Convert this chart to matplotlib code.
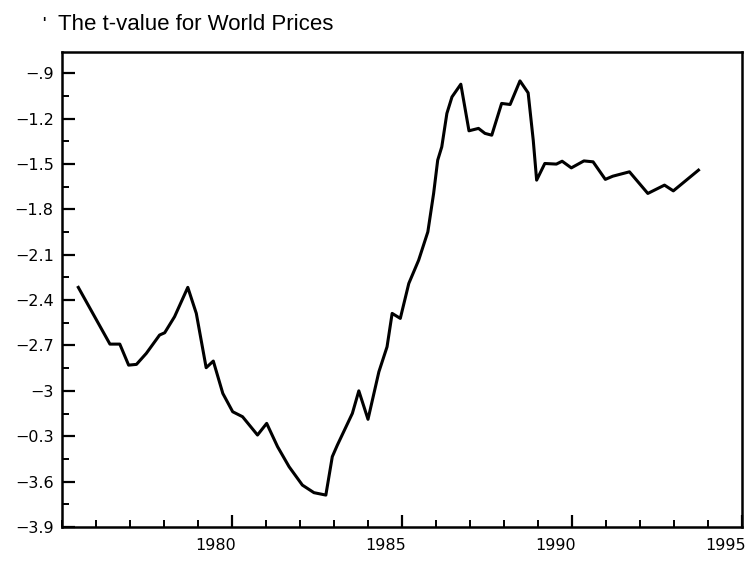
import matplotlib
matplotlib.use("Agg")
import matplotlib.pyplot as plt
from matplotlib.ticker import FixedLocator, MultipleLocator
from matplotlib.transforms import ScaledTranslation

# t-value series (year, value)
years = [1975.48, 1976.41, 1976.70, 1976.96, 1977.19, 1977.48, 1977.87, 1978.02,
         1978.31, 1978.70, 1978.95, 1979.24, 1979.45, 1979.73, 1980.02, 1980.31,
         1980.75, 1981.02, 1981.34, 1981.68, 1982.07, 1982.41, 1982.76, 1982.95,
         1983.10, 1983.54, 1983.73, 1984.00, 1984.32, 1984.56, 1984.71, 1984.95,
         1985.20, 1985.49, 1985.76, 1985.93, 1986.05, 1986.17, 1986.32, 1986.47,
         1986.73, 1986.97, 1987.25, 1987.44, 1987.64, 1987.93, 1988.18, 1988.47,
         1988.71, 1988.86, 1988.96, 1989.20, 1989.54, 1989.71, 1989.98, 1990.35,
         1990.62, 1990.98, 1991.20, 1991.69, 1992.23, 1992.72, 1992.98, 1993.72]
tvalues = [-2.316, -2.691, -2.691, -2.830, -2.825, -2.752, -2.631, -2.616,
           -2.510, -2.316, -2.488, -2.847, -2.803, -3.017, -3.138, -3.171,
           -3.292, -3.215, -3.369, -3.502, -3.623, -3.673, -3.689, -3.435,
           -3.358, -3.149, -3.000, -3.188, -2.874, -2.709, -2.488, -2.521,
           -2.290, -2.136, -1.949, -1.695, -1.475, -1.387, -1.166, -1.057,
           -0.973, -1.281, -1.265, -1.298, -1.310, -1.100, -1.107, -0.951,
           -1.030, -1.343, -1.607, -1.497, -1.501, -1.482, -1.526, -1.480,
           -1.486, -1.602, -1.581, -1.552, -1.695, -1.640, -1.678, -1.541]

ytick_vals = [-0.9, -1.2, -1.5, -1.8, -2.1, -2.4, -2.7, -3.0, -3.3, -3.6, -3.9]
# labels as printed on the original (including its "-0.3")
ytick_labels = ["\u2212.9", "\u22121.2", "\u22121.5", "\u22121.8", "\u22122.1",
                "\u22122.4", "\u22122.7", "\u22123", "\u22120.3", "\u22123.6",
                "\u22123.9"]
xtick_vals = [1980, 1985, 1990, 1995]
xtick_labels = ["1980", "1985", "1990", "1995"]

fig = plt.figure(figsize=(7.51, 5.63), dpi=100)
ax = fig.add_axes([62 / 751, 1 - 527 / 563, 680 / 751, 475 / 563])

ax.plot(years, tvalues, color="black", lw=2.2, solid_joinstyle="round")

ax.set_xlim(1975, 1995)
ax.set_ylim(-3.9, -0.76)

ax.yaxis.set_major_locator(FixedLocator(ytick_vals))
ax.set_yticklabels(ytick_labels)
ax.yaxis.set_minor_locator(MultipleLocator(0.15))
ax.xaxis.set_major_locator(FixedLocator(xtick_vals))
ax.set_xticklabels(xtick_labels)
ax.xaxis.set_minor_locator(MultipleLocator(1))

ax.tick_params(which="both", direction="in", top=False, right=False, color="black")
ax.tick_params(which="major", length=9, width=1.6, pad=6)
ax.tick_params(which="minor", length=5, width=1.4)
ax.tick_params(axis="x", which="major", pad=8)
for sp in ax.spines.values():
    sp.set_linewidth(1.8)

lab_font = dict(family="DejaVu Sans", size=11.5)
for lab in ax.get_yticklabels():
    lab.set(**lab_font)
for lab in ax.get_xticklabels():
    lab.set(**lab_font)
    # year labels sit a little left of their tick on the original
    lab.set_transform(lab.get_transform() + ScaledTranslation(-0.16, 0, fig.dpi_scale_trans))

fig.text(58 / 751, 1 - 30 / 563, "The t-value for World Prices",
         family="Liberation Sans", fontsize=16, va="baseline")
fig.text(42 / 751, 1 - 27 / 563, "'", family="Liberation Sans", fontsize=10,
         va="baseline", weight="bold")

fig.savefig("out.png", dpi=100)
